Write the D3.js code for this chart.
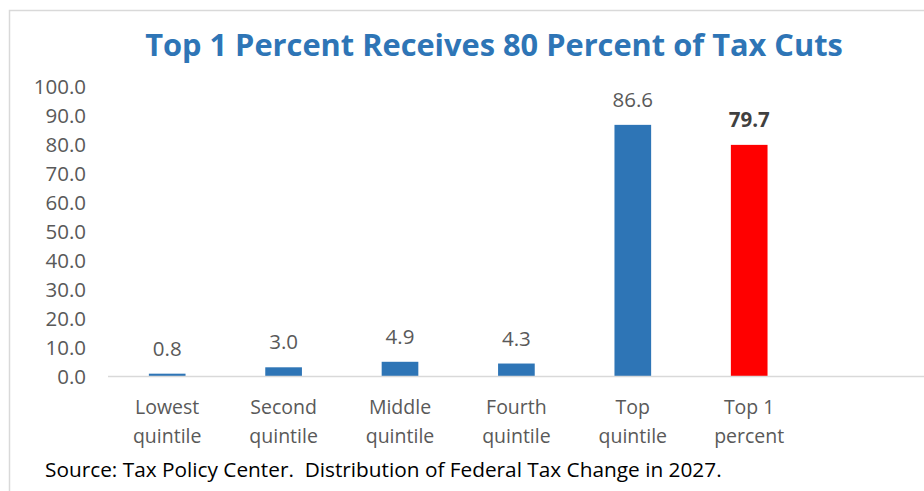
<!DOCTYPE html>
<html>
<head>
<meta charset="utf-8">
<script src="https://cdn.jsdelivr.net/npm/d3@7"></script>
<style>
  body { margin: 0; background: #fff; }
  svg text { font-family: "Open Sans", Calibri, sans-serif; }
</style>
</head>
<body>
<div id="chart"></div>
<script>
// data
var categories = ["Lowest quintile", "Second quintile", "Middle quintile", "Fourth quintile", "Top quintile", "Top 1 percent"];
var shares = [0.8, 3.0, 4.9, 4.3, 86.6, 79.7];
var highlight = [false, false, false, false, false, true];
var yTicks = [0, 10, 20, 30, 40, 50, 60, 70, 80, 90, 100];

var width = 924, height = 491;
var margin = { top: 86, left: 109, bottom: 115 };

var svg = d3.select("#chart").append("svg")
	.attr("width", width)
	.attr("height", height);

// outer frame
svg.append("rect")
	.attr("x", 9.5).attr("y", 10.5)
	.attr("width", width + 10).attr("height", height + 10)
	.attr("fill", "none")
	.attr("stroke", "#d9d9d9")
	.attr("stroke-width", 1.5);

// scales
var x = d3.scaleBand()
	.domain(categories)
	.range([margin.left, margin.left + 6 * 116.4])
	.paddingInner(0.685)
	.paddingOuter(0.3425);

var y = d3.scaleLinear()
	.domain([0, 100])
	.range([height - margin.bottom, margin.top]);

// title
var title = svg.append("text")
	.attr("x", 494)
	.attr("y", 56)
	.attr("text-anchor", "middle")
	.style("font-weight", "bold")
	.style("font-size", "30px")
	.attr("fill", "#2E75B6")
	.text("Top 1 Percent Receives 80 Percent of Tax Cuts");
fitWidth(title, 698);

// y axis labels
var yAxis = d3.axisLeft(y)
	.tickValues(yTicks)
	.tickFormat(d3.format(".1f"))
	.tickSize(0)
	.tickPadding(0);

svg.append("g")
	.attr("class", "y-axis")
	.attr("transform", "translate(86,0)")
	.call(yAxis)
	.call(function (g) { g.select(".domain").remove(); })
	.selectAll("text")
	.attr("fill", "#595959")
	.style("font-size", "20.5px")
	.attr("dy", "0.35em");

// bars
svg.selectAll(".bar")
	.data(categories)
	.enter()
	.append("rect")
	.attr("class", "bar")
	.attr("x", function (d) { return x(d); })
	.attr("y", function (d, i) { return y(shares[i]); })
	.attr("width", x.bandwidth())
	.attr("height", function (d, i) { return y(0) - y(shares[i]); })
	.attr("fill", function (d, i) { return highlight[i] ? "#FF0000" : "#2E75B6"; });

// baseline, runs across to the right edge
svg.append("line")
	.attr("x1", margin.left - 1).attr("x2", width)
	.attr("y1", y(0) + 0.5).attr("y2", y(0) + 0.5)
	.attr("stroke", "#d9d9d9")
	.attr("stroke-width", 1.5);

// value labels
svg.selectAll(".value")
	.data(categories)
	.enter()
	.append("text")
	.attr("class", "value")
	.attr("x", function (d) { return x(d) + x.bandwidth() / 2; })
	.attr("y", function (d, i) { return y(shares[i]) - 25; })
	.attr("dy", "0.35em")
	.attr("text-anchor", "middle")
	.style("font-size", "20.5px")
	.style("font-weight", function (d, i) { return highlight[i] ? "bold" : "normal"; })
	.attr("fill", function (d, i) { return highlight[i] ? "#404040" : "#595959"; })
	.text(function (d, i) { return shares[i].toFixed(1); });

// category labels, two lines each
var catLabels = svg.selectAll(".cat")
	.data(categories)
	.enter()
	.append("text")
	.attr("class", "cat")
	.attr("text-anchor", "middle")
	.attr("fill", "#595959")
	.style("font-size", "19.5px");

catLabels.selectAll("tspan")
	.data(function (d) {
		var parts = d.split(" ");
		return [parts.slice(0, parts.length - 1).join(" "), parts[parts.length - 1]]
			.map(function (t) { return { cat: d, text: t }; });
	})
	.enter()
	.append("tspan")
	.attr("x", function (d) { return x(d.cat) + x.bandwidth() / 2; })
	.attr("y", function (d, i) { return 414 + i * 29; })
	.text(function (d) { return d.text; });

// source note
var source = svg.append("text")
	.attr("x", 45)
	.attr("y", 477)
	.attr("fill", "#000")
	.style("font-size", "19px")
	.text("Source: Tax Policy Center.  Distribution of Federal Tax Change in 2027.")
	.attr("xml:space", "preserve");
fitWidth(source, 677);

function fitWidth(sel, target) {
	var fs = parseFloat(sel.style("font-size"));
	var w = sel.node().getComputedTextLength();
	if (w > 0) sel.style("font-size", (fs * target / w) + "px");
}
</script>
</body>
</html>
